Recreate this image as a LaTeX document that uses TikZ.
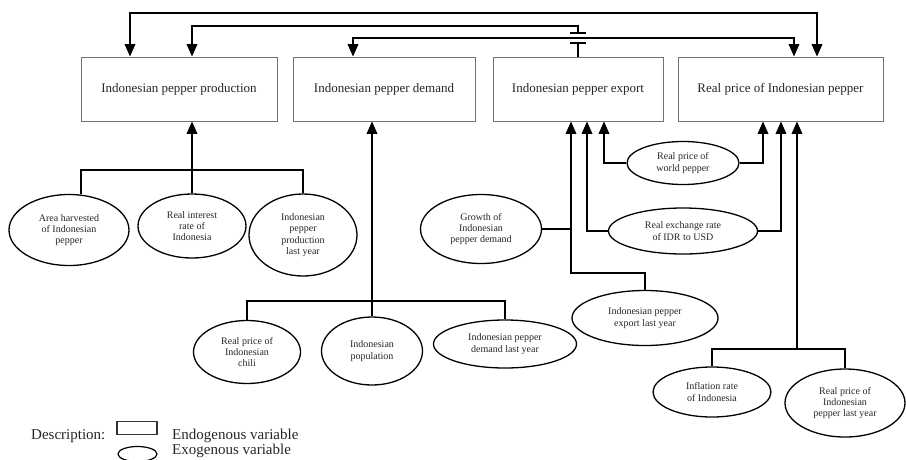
\documentclass[tikz,border=0pt]{standalone}
\usepackage{fontspec}
\setmainfont{Liberation Serif}
\usetikzlibrary{arrows.meta,shapes.geometric}
\begin{document}
\begin{tikzpicture}[x=1pt,y=-1pt,
 endo/.style={draw=black!55, line width=0.8pt, rectangle, minimum height=64pt, inner sep=0pt, font=\fontsize{13}{15}\selectfont, text=black!85},
 exo/.style={draw=black, line width=1.3pt, ellipse, inner sep=0pt, align=center, font=\fontsize{10}{11.3}\selectfont, text=black!85},
 ln/.style={line width=1.8pt},
 arr/.style={ln, -{Triangle[width=10.5pt,length=12.5pt]}},
 dbl/.style={ln, {Triangle[width=10.5pt,length=12.5pt]}-{Triangle[width=10.5pt,length=12.5pt]}},
 legtext/.style={font=\fontsize{15}{16}\selectfont, text=black!85, inner sep=0pt, anchor=west},
]
\useasboundingbox (0,0) rectangle (906,459);

% endogenous boxes
\node[endo, minimum width=196pt] (prod) at (179,89) {Indonesian pepper production};
\node[endo, minimum width=182pt] (dem) at (384,89) {Indonesian pepper demand};
\node[endo, minimum width=170pt] (exp) at (578,89) {Indonesian pepper export};
\node[endo, minimum width=205pt] (price) at (780.5,89) {Real price of Indonesian pepper};

% exogenous ellipses
\node[exo, minimum width=120pt, minimum height=71pt] (harv) at (69,230) {Area harvested\\of Indonesian\\pepper};
\node[exo, minimum width=108pt, minimum height=64pt] (rint) at (192,226) {Real interest\\rate of\\Indonesia};
\node[exo, minimum width=108pt, minimum height=82pt] (plast) at (303,235) {Indonesian\\pepper\\production\\last year};
\node[exo, minimum width=107pt, minimum height=63pt] (chili) at (247,352) {Real price of\\Indonesian\\chili};
\node[exo, minimum width=101pt, minimum height=68pt] (pop) at (372,351) {Indonesian\\population};
\node[exo, minimum width=143pt, minimum height=48pt] (dlast) at (505,344) {Indonesian pepper\\demand last year};
\node[exo, minimum width=121pt, minimum height=69pt] (growth) at (481,229) {Growth of\\Indonesian\\pepper demand};
\node[exo, minimum width=112pt, minimum height=43pt] (world) at (683,163) {Real price of\\world pepper};
\node[exo, minimum width=149pt, minimum height=46pt] (exch) at (683,231) {Real exchange rate\\of IDR to USD};
\node[exo, minimum width=146pt, minimum height=55pt] (elast) at (645,318) {Indonesian pepper\\export last year};
\node[exo, minimum width=118pt, minimum height=50pt] (infl) at (712,392) {Inflation rate\\of Indonesia};
\node[exo, minimum width=120pt, minimum height=68pt] (plastp) at (845,403) {Real price of\\Indonesian\\pepper last year};

% top feedback connectors
\draw[dbl] ([xshift=-49pt]prod.north) -- ++(0,-44) -| ([xshift=36.5pt]price.north);
\draw[dbl] ([xshift=-31pt]dem.north) -- ++(0,-19) -| ([xshift=13.5pt]price.north);
\coordinate (teeLo) at ([yshift=14pt]exp.north);
\coordinate (teeHi) at ([yshift=24pt]exp.north);
\draw[ln] (exp.north) -- (teeLo);
\draw[ln] ([xshift=-8pt]teeLo) -- ([xshift=8pt]teeLo);
\draw[ln] ([xshift=-8pt]teeHi) -- ([xshift=8pt]teeHi);
\draw[arr] (teeHi) -- ++(0,-7) -| ([xshift=13pt]prod.north);

% production inputs
\coordinate (jP) at (192,170);
\draw[arr] (rint.north) -- (rint.north |- prod.south);
\draw[ln] ([xshift=12pt]harv.north) |- (jP) -| (plast.north);

% demand inputs
\coordinate (jD) at (372,301);
\draw[arr] (pop.north) -- (pop.north |- dem.south);
\draw[ln] (chili.north) |- (jD) -| (dlast.north);

% export inputs
\coordinate (e1) at ([xshift=-7pt]exp.south);
\coordinate (e2) at ([xshift=9pt]exp.south);
\coordinate (e3) at ([xshift=26pt]exp.south);
\draw[ln] (growth.east) -- (e1 |- growth.east);
\draw[arr] (elast.north) -- ++(0,-17) -| (e1);
\draw[arr] (exch.west) -| (e2);
\draw[arr] (world.west) -| (e3);

% price inputs
\coordinate (p1) at ([xshift=-17.5pt]price.south);
\coordinate (p2) at ([xshift=0.5pt]price.south);
\coordinate (p3) at ([xshift=16.5pt]price.south);
\coordinate (jPr) at (797,349);
\draw[arr] (world.east) -| (p1);
\draw[arr] (exch.east) -| (p2);
\draw[arr] (jPr) -- (p3);
\draw[ln] (infl.north) |- (jPr) -| (plastp.north);

% legend
\node[legtext] (desc) at (31,436) {Description:};
\node[draw=black!80, line width=1.2pt, rectangle, minimum width=40pt, minimum height=13pt, inner sep=0pt] (legbox) at (137,428) {};
\node[draw=black, line width=1.2pt, ellipse, minimum width=39pt, minimum height=15pt, inner sep=0pt] (legell) at (137.5,454) {};
\node[legtext] (endolab) at (172,436) {Endogenous variable};
\node[legtext] (exolab) at (172,450.5) {Exogenous variable};
\end{tikzpicture}
\end{document}
